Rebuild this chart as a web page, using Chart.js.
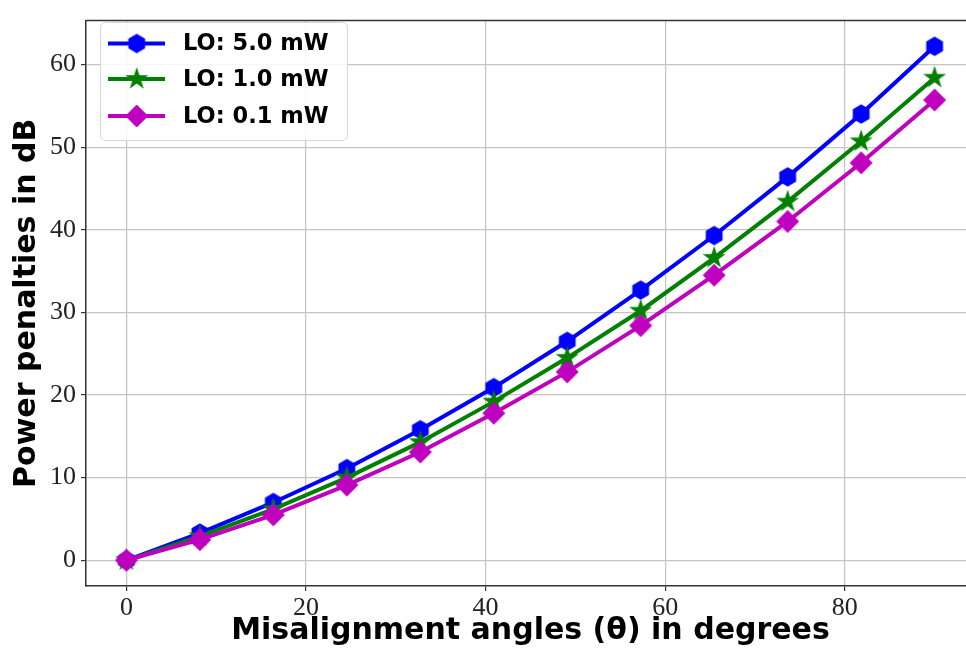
<!DOCTYPE html>
<html><head><meta charset="utf-8">
<script src="https://cdn.jsdelivr.net/npm/chart.js@4.4.0/dist/chart.umd.min.js"></script>
<style>html,body{margin:0;padding:0;background:#fff;overflow:hidden;}#wrap{width:990px;height:662px;}</style>
</head><body><div id="wrap"><canvas id="c" width="990" height="662"></canvas></div>
<script>
// ---- data ----
const angles = [0, 8.18, 16.36, 24.55, 32.73, 40.91, 49.09, 57.27, 65.45, 73.64, 81.82, 90];
const lo50 = [0, 3.3, 7.0, 11.1, 15.8, 20.9, 26.5, 32.7, 39.3, 46.4, 54.0, 62.2];
const lo10 = [0, 2.9, 6.2, 10.0, 14.3, 19.2, 24.5, 30.2, 36.6, 43.4, 50.7, 58.4];
const lo01 = [0, 2.5, 5.5, 9.1, 13.1, 17.8, 22.8, 28.4, 34.5, 41.0, 48.1, 55.7];
const seriesLabels = ['LO: 5.0 mW', 'LO: 1.0 mW', 'LO: 0.1 mW'];
const xTicks = [0, 20, 40, 60, 80];
const yTicks = [0, 10, 20, 30, 40, 50, 60];
const xTitle = 'Misalignment angles (\u03B8) in degrees';
const yTitle = 'Power penalties in dB';

const colors = ['#0000ff', '#008000', '#bf00bf'];

function makeMarker(kind, color) {
  const s = 30, c = document.createElement('canvas');
  c.width = s; c.height = s;
  const g = c.getContext('2d');
  const cx = s / 2, cy = s / 2;
  g.fillStyle = color;
  g.beginPath();
  if (kind === 'hex') {
    const r = 9.7;
    for (let k = 0; k < 6; k++) {
      const a = -Math.PI / 2 + k * Math.PI / 3;
      const px = cx + r * Math.cos(a), py = cy + r * Math.sin(a);
      k ? g.lineTo(px, py) : g.moveTo(px, py);
    }
  } else if (kind === 'star') {
    const R = 12, r = R * 0.38;
    for (let k = 0; k < 10; k++) {
      const a = -Math.PI / 2 + k * Math.PI / 5;
      const rr = k % 2 ? r : R;
      const px = cx + rr * Math.cos(a), py = cy + rr * Math.sin(a);
      k ? g.lineTo(px, py) : g.moveTo(px, py);
    }
  } else {
    const r = 11.5;
    g.moveTo(cx, cy - r); g.lineTo(cx + r, cy); g.lineTo(cx, cy + r); g.lineTo(cx - r, cy);
  }
  g.closePath();
  g.fill();
  return c;
}
const markers = [makeMarker('hex', colors[0]), makeMarker('star', colors[1]), makeMarker('diamond', colors[2])];
const seriesValues = [lo50, lo10, lo01];

const datasets = seriesValues.map((vals, i) => ({
  label: seriesLabels[i],
  data: angles.map((a, j) => ({ x: a, y: vals[j] })),
  borderColor: colors[i],
  backgroundColor: colors[i],
  borderWidth: 4,
  pointStyle: markers[i],
  pointRadius: 11,
  tension: 0,
  order: 3 - i
}));

const extras = {
  id: 'extras',
  afterDraw(chart) {
    const ctx = chart.ctx, ca = chart.chartArea;
    ctx.save();
    // top spine
    ctx.strokeStyle = '#333'; ctx.lineWidth = 1.5;
    ctx.beginPath(); ctx.moveTo(ca.left, ca.top); ctx.lineTo(ca.right, ca.top); ctx.stroke();
    // legend
    const bx = 100.5, by = 22.5, bw = 247, bh = 118;
    ctx.beginPath();
    ctx.roundRect(bx, by, bw, bh, 5);
    ctx.fillStyle = 'rgba(255,255,255,0.85)';
    ctx.fill();
    ctx.strokeStyle = '#d6d6d6'; ctx.lineWidth = 1;
    ctx.stroke();
    const rows = [43.5, 79, 116];
    seriesLabels.forEach((lab, i) => {
      const y = rows[i];
      ctx.strokeStyle = colors[i]; ctx.lineWidth = 4;
      ctx.beginPath(); ctx.moveTo(108, y); ctx.lineTo(165, y); ctx.stroke();
      const m = markers[i];
      ctx.drawImage(m, 136.7 - m.width / 2, y - m.height / 2);
      ctx.fillStyle = '#000';
      ctx.font = 'bold 22.5px "DejaVu Sans"';
      ctx.textAlign = 'left'; ctx.textBaseline = 'middle';
      ctx.fillText(lab, 183, y + 1);
    });
    ctx.restore();
  }
};

new Chart(document.getElementById('c'), {
  type: 'line',
  data: { datasets },
  plugins: [extras],
  options: {
    responsive: false,
    animation: false,
    events: [],
    layout: { padding: { top: 9, right: 13, left: 0, bottom: 0 } },
    plugins: { legend: { display: false }, tooltip: { enabled: false } },
    scales: {
      x: {
        type: 'linear', min: -4.5, max: 94.5,
        afterBuildTicks: s => { s.ticks = xTicks.map(v => ({ value: v })); },
        afterFit: s => { s.height = 76; },
        grid: { color: '#c4c4c4', lineWidth: 1.2, tickLength: 5, tickColor: '#333' },
        border: { color: '#333', width: 1.5 },
        ticks: { autoSkip: false, maxRotation: 0, padding: 2, color: '#222',
                 font: { family: '"Liberation Serif"', size: 26 } },
        title: { display: true, text: xTitle, color: '#000',
                 font: { family: '"DejaVu Sans"', size: 30, weight: 'bold', lineHeight: 1 },
                 padding: { top: 0, bottom: 16 } }
      },
      y: {
        type: 'linear', min: -3.11, max: 65.31,
        afterBuildTicks: s => { s.ticks = yTicks.map(v => ({ value: v })); },
        afterFit: s => { s.width = 86; },
        grid: { color: '#c4c4c4', lineWidth: 1.2, tickLength: 5, tickColor: '#333' },
        border: { color: '#333', width: 1.5 },
        ticks: { padding: 5, color: '#222',
                 font: { family: '"Liberation Serif"', size: 26 } },
        title: { display: true, text: yTitle, color: '#000',
                 font: { family: '"DejaVu Sans"', size: 30, weight: 'bold', lineHeight: 1 },
                 padding: { top: 12, bottom: 0 } }
      }
    }
  }
});
</script>
</body></html>
